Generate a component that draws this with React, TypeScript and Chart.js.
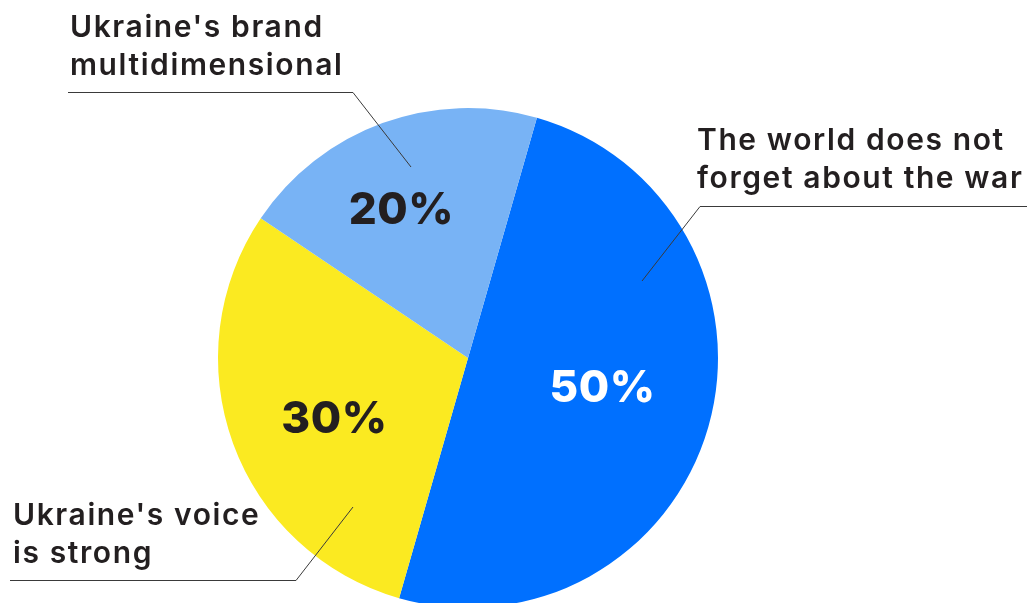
import React, { useEffect, useRef } from "react";
import { Chart, registerables } from "chart.js";

Chart.register(...registerables);

const categories = [
  "The world does not forget about the war",
  "Ukraine's voice is strong",
  "Ukraine's brand multidimensional",
];
const shares = [50, 30, 20];
const percentLabels = ["50%", "30%", "20%"];
const sliceColors = ["#0070FF", "#FBEA21", "#78B3F5"];
const percentColors = ["#FFFFFF", "#231F20", "#231F20"];
// label placement as fraction of radius, for each slice
const percentRadiusFrac = [0.55, 0.585, 0.655];

// callout text split into lines, in the same order as categories
const calloutLines = [
  ["The world does not", "forget about the war"],
  ["Ukraine's voice", "is strong"],
  ["Ukraine's brand", "multidimensional"],
];

// layout of callouts (pixels)
const calloutLayout = [
  { x: 697, baselines: [150, 188], leader: [[1027, 206.5], [700, 206.5], [642, 281]] },
  { x: 13, baselines: [525, 563], leader: [[10, 580.5], [296, 580.5], [353, 507]] },
  { x: 70, baselines: [37, 75], leader: [[68, 92.5], [353, 92.5], [411, 167]] },
];

const labelsPlugin = {
  id: "customLabels",
  afterDatasetsDraw(chart: any) {
    const ctx = chart.ctx as CanvasRenderingContext2D;
    const meta = chart.getDatasetMeta(0);
    ctx.save();
    // percent labels
    meta.data.forEach((arc: any, i: number) => {
      const p = arc.getProps(["x", "y", "startAngle", "endAngle", "outerRadius"], true);
      const mid = (p.startAngle + p.endAngle) / 2 - (4 * Math.PI) / 180;
      const r = p.outerRadius * percentRadiusFrac[i];
      const x = p.x + Math.cos(mid) * r;
      const y = p.y + Math.sin(mid) * r;
      ctx.font = "800 44px Inter";
      (ctx as any).letterSpacing = "0.5px";
      ctx.fillStyle = percentColors[i];
      ctx.textAlign = "center";
      ctx.textBaseline = "middle";
      ctx.fillText(percentLabels[i], x, y + 2);
    });
    // callouts
    calloutLayout.forEach((c, i) => {
      ctx.font = "600 30px Inter";
      (ctx as any).letterSpacing = "1.6px";
      ctx.fillStyle = "#231F20";
      ctx.textAlign = "left";
      ctx.textBaseline = "alphabetic";
      calloutLines[i].forEach((line, j) => ctx.fillText(line, c.x, c.baselines[j]));
      ctx.beginPath();
      ctx.strokeStyle = "#3a3a3a";
      ctx.lineWidth = 1;
      c.leader.forEach((pt, k) => (k === 0 ? ctx.moveTo(pt[0], pt[1]) : ctx.lineTo(pt[0], pt[1])));
      ctx.stroke();
    });
    (ctx as any).letterSpacing = "0px";
    ctx.restore();
  },
};

export default function App() {
  const ref = useRef<HTMLCanvasElement>(null);
  useEffect(() => {
    const canvas = ref.current!;
    const chart = new Chart(canvas, {
      type: "pie",
      data: {
        labels: categories,
        datasets: [
          {
            data: shares,
            backgroundColor: sliceColors,
            borderWidth: 0,
          },
        ],
      },
      options: {
        animation: false,
        responsive: false,
        rotation: 16,
        layout: { padding: { left: 218, right: 314, top: 108, bottom: 12 } },
        plugins: {
          legend: { display: false },
          tooltip: { enabled: false },
        },
      },
      plugins: [labelsPlugin],
    });
    return () => chart.destroy();
  }, []);
  return (
    <div
      style={{
        position: "fixed",
        left: 0,
        top: 0,
        width: 1032,
        height: 603,
        overflow: "hidden",
        background: "#fff",
      }}
    >
      <canvas ref={ref} width={1032} height={620} style={{ display: "block" }} />
    </div>
  );
}
